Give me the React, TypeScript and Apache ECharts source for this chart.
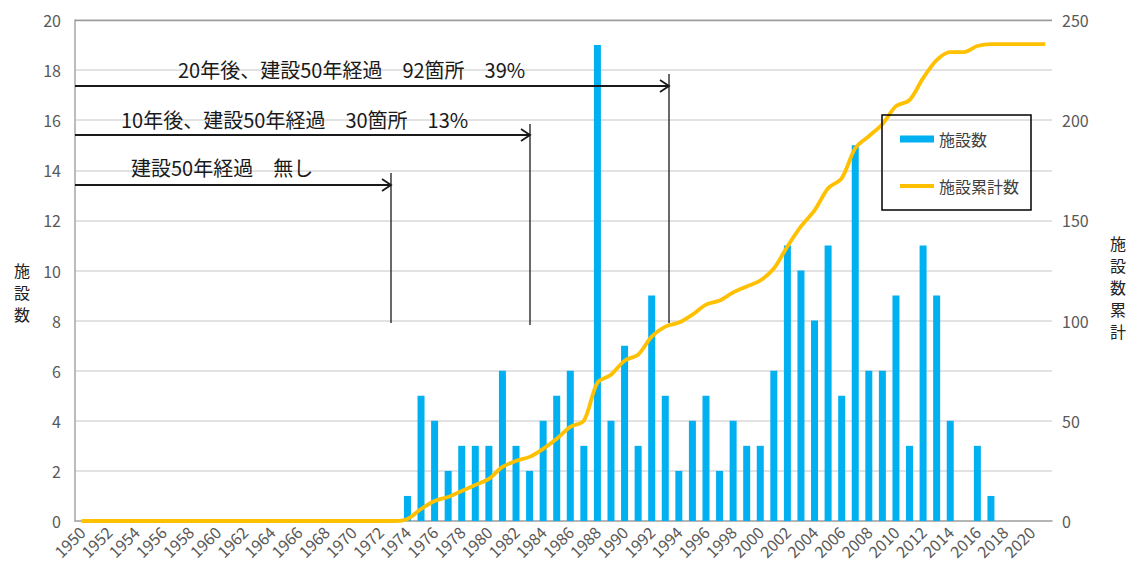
import React, { useEffect, useRef } from "react";
import * as echarts from "echarts";

const years = [
  "1950", "1951", "1952", "1953", "1954", "1955", "1956", "1957", "1958", "1959",
  "1960", "1961", "1962", "1963", "1964", "1965", "1966", "1967", "1968", "1969",
  "1970", "1971", "1972", "1973", "1974", "1975", "1976", "1977", "1978", "1979",
  "1980", "1981", "1982", "1983", "1984", "1985", "1986", "1987", "1988", "1989",
  "1990", "1991", "1992", "1993", "1994", "1995", "1996", "1997", "1998", "1999",
  "2000", "2001", "2002", "2003", "2004", "2005", "2006", "2007", "2008", "2009",
  "2010", "2011", "2012", "2013", "2014", "2015", "2016", "2017", "2018", "2019",
  "2020", "2021",
];

// 施設数 (per year)
const facilityCounts = [
  0, 0, 0, 0, 0, 0, 0, 0, 0, 0,
  0, 0, 0, 0, 0, 0, 0, 0, 0, 0,
  0, 0, 0, 0, 1, 5, 4, 2, 3, 3,
  3, 6, 3, 2, 4, 5, 6, 3, 19, 4,
  7, 3, 9, 5, 2, 4, 5, 2, 4, 3,
  3, 6, 11, 10, 8, 11, 5, 15, 6, 6,
  9, 3, 11, 9, 4, 0, 3, 1, 0, 0,
  0, 0,
];

// 施設累計数 (cumulative)
const cumulativeCounts = [
  0, 0, 0, 0, 0, 0, 0, 0, 0, 0,
  0, 0, 0, 0, 0, 0, 0, 0, 0, 0,
  0, 0, 0, 0, 1, 6, 10, 12, 15, 18,
  21, 27, 30, 32, 36, 41, 47, 50, 69, 73,
  80, 83, 92, 97, 99, 103, 108, 110, 114, 117,
  120, 126, 137, 147, 155, 166, 171, 186, 192, 198,
  207, 210, 221, 230, 234, 234, 237, 238, 238, 238,
  238, 238,
];

const annotationTexts = [
  "20年後、建設50年経過　92箇所　39%",
  "10年後、建設50年経過　30箇所　13%",
  "建設50年経過　無し",
];

const leftAxisName = ["施", "設", "数"];
const rightAxisName = ["施", "設", "数", "累", "計"];

export default function App() {
  const ref = useRef<HTMLDivElement>(null);

  useEffect(() => {
    const chart = echarts.init(ref.current!, null, { renderer: "svg" });
    const font = '"Noto Sans CJK JP", "Noto Sans", sans-serif';
    const ink = "#1a1a1a";
    const axisGray = "#595959";

    const arrow = (y: number, xEnd: number, vTop: number, vBottom: number) => [
      {
        type: "line",
        shape: { x1: 75, y1: y, x2: xEnd, y2: y },
        style: { stroke: ink, lineWidth: 1.8 },
        z: 10,
      },
      {
        type: "polyline",
        shape: { points: [[xEnd - 9, y - 6], [xEnd, y], [xEnd - 9, y + 6]] },
        style: { stroke: ink, lineWidth: 1.8, fill: null },
        z: 10,
      },
      {
        type: "line",
        shape: { x1: xEnd, y1: vTop, x2: xEnd, y2: vBottom },
        style: { stroke: ink, lineWidth: 1.3 },
        z: 10,
      },
    ];

    const annText = (text: string, x: number, y: number) => ({
      type: "text",
      x,
      y,
      z: 10,
      style: {
        text,
        fill: ink,
        font: `20px ${font}`,
        textAlign: "left",
        textVerticalAlign: "middle",
      },
    });

    const vertName = (chars: string[], x: number, yCenter: number) =>
      chars.map((c, i) => ({
        type: "text",
        x,
        y: yCenter + (i - (chars.length - 1) / 2) * 22,
        style: {
          text: c,
          fill: "#222",
          font: `16px ${font}`,
          textAlign: "center",
          textVerticalAlign: "middle",
        },
      }));

    chart.setOption({
      animation: false,
      textStyle: { fontFamily: font },
      grid: {
        left: 75,
        top: 20,
        right: 78,
        bottom: 45,
        containLabel: false,
      },
      legend: {
        orient: "vertical",
        left: 882,
        top: 115,
        padding: [16, 12, 16, 16],
        itemGap: 31,
        itemWidth: 34,
        itemHeight: 7,
        borderColor: "#000",
        borderWidth: 1.5,
        textStyle: { fontSize: 16, color: "#404040", fontFamily: font },
        data: [
          { name: "施設数", icon: "rect" },
          {
            name: "施設累計数",
            itemStyle: { opacity: 0 },
            lineStyle: { width: 4, color: "#FFC000" },
          },
        ],
      },
      xAxis: {
        type: "category",
        data: years,
        boundaryGap: true,
        axisLine: { lineStyle: { color: "#a6a6a6", width: 1.5 } },
        axisTick: { show: false },
        axisLabel: {
          interval: 1,
          rotate: 45,
          fontSize: 16,
          color: axisGray,
          margin: 8,
        },
      },
      yAxis: [
        {
          type: "value",
          min: 0,
          max: 20,
          interval: 2,
          axisLine: { show: true, lineStyle: { color: "#a6a6a6", width: 1.5 } },
          axisTick: { show: false },
          axisLabel: { color: axisGray, fontSize: 16, margin: 14 },
          splitLine: { lineStyle: { color: "#d9d9d9", width: 1.5 } },
        },
        {
          type: "value",
          min: 0,
          max: 250,
          interval: 50,
          axisLine: { show: false },
          axisTick: { show: false },
          axisLabel: { color: axisGray, fontSize: 16, margin: 10 },
          splitLine: { show: false },
        },
      ],
      series: [
        {
          name: "施設数",
          type: "bar",
          data: facilityCounts,
          barWidth: 7,
          itemStyle: { color: "#00B0F0" },
        },
        {
          name: "施設累計数",
          type: "line",
          yAxisIndex: 1,
          data: cumulativeCounts,
          smooth: 0.3,
          symbol: "none",
          lineStyle: { color: "#FFC000", width: 3.8 },
          itemStyle: { color: "#FFC000" },
        },
      ],
      graphic: [
        {
          type: "line",
          shape: { x1: 75, y1: 20.5, x2: 1052, y2: 20.5 },
          style: { stroke: "#9a9a9a", lineWidth: 1.5 },
          z: 5,
        },
        ...arrow(86, 669, 74, 323),
        ...arrow(135, 530, 124, 325),
        ...arrow(185, 391, 173, 323),
        annText(annotationTexts[0], 178, 69),
        annText(annotationTexts[1], 121, 119),
        annText(annotationTexts[2], 131, 167),
        ...vertName(leftAxisName, 22, 292),
        ...vertName(rightAxisName, 1118, 287),
      ],
    });

    return () => chart.dispose();
  }, []);

  return (
    <div
      ref={ref}
      style={{ position: "absolute", left: 0, top: 0, width: 1130, height: 566 }}
    />
  );
}
